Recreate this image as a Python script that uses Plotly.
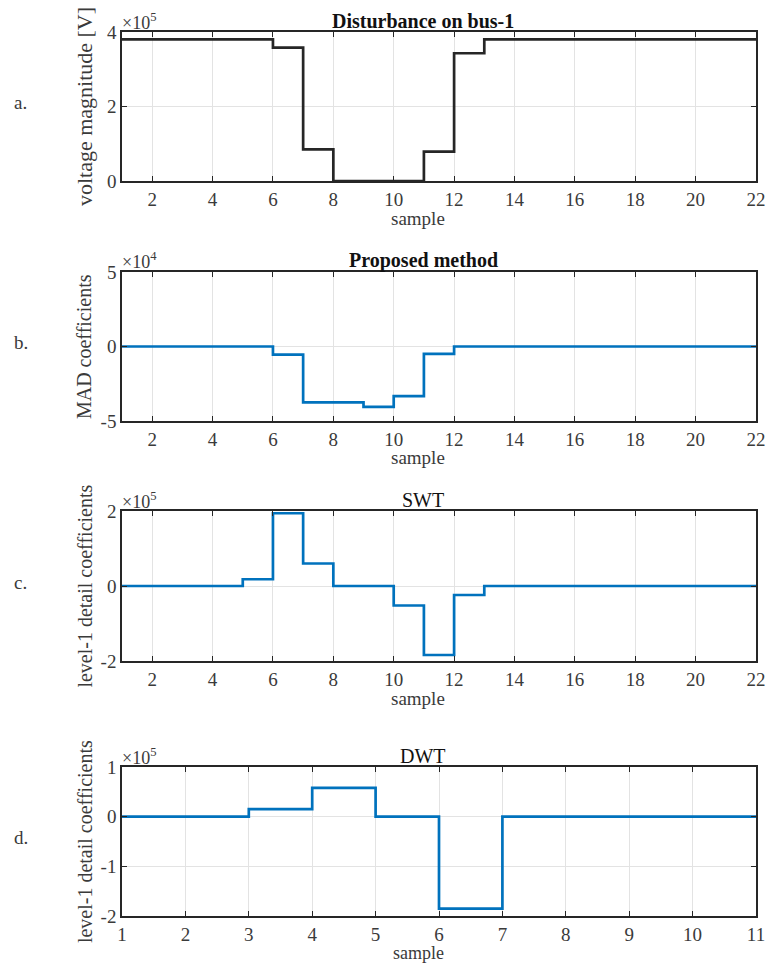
import plotly.graph_objects as go

# ---------------- data ----------------
samples_22 = list(range(1, 23))
samples_11 = list(range(1, 12))

# a. voltage magnitude on bus-1 [V]
voltage = [380000, 380000, 380000, 380000, 380000, 358000, 85000, 0, 0, 0,
           79000, 343000, 380000, 380000, 380000, 380000, 380000, 380000,
           380000, 380000, 380000, 380000]
# b. proposed method (MAD coefficients)
mad = [0, 0, 0, 0, 0, -5500, -37500, -37500, -40500, -33300, -4900, 0,
       0, 0, 0, 0, 0, 0, 0, 0, 0, 0]
# c. SWT level-1 detail coefficients
swt = [0, 0, 0, 0, 18000, 194000, 60000, 0, 0, -52000, -184000, -24000,
       0, 0, 0, 0, 0, 0, 0, 0, 0, 0]
# d. DWT level-1 detail coefficients
dwt = [0, 0, 15000, 58000, 0, -185000, 0, 0, 0, 0, 0]

titles = ["Disturbance on bus-1", "Proposed method", "SWT", "DWT"]
ylabels = ["voltage magnitude [V]", "MAD coefficients",
           "level-1 detail coefficients", "level-1 detail coefficients"]
panel_letters = ["a.", "b.", "c.", "d."]
exponents = ["5", "4", "5", "5"]
ytick_vals = [[0, 2e5, 4e5], [-5e4, 0, 5e4], [-2e5, 0, 2e5], [-2e5, -1e5, 0, 1e5]]
ytick_text = [["0", "2", "4"], ["-5", "0", "5"], ["-2", "0", "2"], ["-2", "-1", "0", "1"]]
y_ranges = [[0, 4e5], [-5e4, 5e4], [-2e5, 2e5], [-2e5, 1e5]]
x_ticks_22 = list(range(2, 23, 2))
x_ticks_11 = list(range(1, 12))

# ---------------- layout geometry (screen px; page body has an 8px margin) ----------------
OFF = 8
W, H = 775 - OFF, 965 - OFF
PL, PR = 122, 766            # plot left/right in screen px
PT, PB = 32, 916             # plot top/bottom in screen px
ML, MR = PL - OFF, W - (PR - OFF)
MT, MB = PT - OFF, H - (PB - OFF)
PW, PH = PR - PL, PB - PT
panels_px = [(32, 181), (272, 421), (511, 661), (767, 916)]  # top, bottom in screen px
sample_gap = [37, 37, 37, 37]
sample_size = [19, 19, 19, 18]
ylabel_size = [22, 20, 20, 20]

def ypaper(py):
    return (PB - py) / PH

def xpaper(px):
    return (px - PL) / PW

FONT = "Liberation Serif"
AXC = "#262626"
TXC = "#3a3a3a"
BLUE = "#0072BD"

fig = go.Figure()
series = [(samples_22, voltage, AXC), (samples_22, mad, BLUE),
          (samples_22, swt, BLUE), (samples_11, dwt, BLUE)]

layout = dict(
    width=W, height=H, margin=dict(l=ML, r=MR, t=MT, b=MB),
    paper_bgcolor="white", plot_bgcolor="white", showlegend=False,
    font=dict(family=FONT, size=19, color=AXC),
)
annotations = []
for i, (xs, ys, col) in enumerate(series):
    n = "" if i == 0 else str(i + 1)
    fig.add_trace(go.Scatter(x=xs, y=ys, mode="lines", line=dict(color=col, width=2.7, shape="hv"),
                             xaxis="x" + n, yaxis="y" + n, hoverinfo="skip"))
    top, bot = panels_px[i]
    xr = [1, 22] if i < 3 else [1, 11]
    xt = x_ticks_22 if i < 3 else x_ticks_11
    common = dict(
        showgrid=True, gridcolor="#e3e3e3", gridwidth=1, zeroline=False,
        showline=True, linecolor=AXC, linewidth=1.5, mirror="allticks",
        ticks="inside", ticklen=5, tickcolor=AXC, tickwidth=1,
        tickfont=dict(family=FONT, size=19, color=TXC),
    )
    layout["xaxis" + n] = dict(domain=[0, 1], anchor="y" + n, range=xr, tickvals=xt, **common)
    layout["yaxis" + n] = dict(
        domain=[ypaper(bot), ypaper(top)], anchor="x" + n, range=y_ranges[i],
        tickvals=ytick_vals[i], ticktext=ytick_text[i], **common)
    # title
    annotations.append(dict(
        text=("<b>%s</b>" % titles[i]) if i < 2 else titles[i],
        x=xpaper(428), y=ypaper(top - 11), xref="paper", yref="paper",
        xanchor="center", yanchor="middle", showarrow=False,
        font=dict(family=FONT, size=20, color="#111111")))
    # exponent
    annotations.append(dict(
        text="×10<sup>%s</sup>" % exponents[i],
        x=xpaper(120), y=ypaper(top - 11), xref="paper", yref="paper",
        xanchor="left", yanchor="middle", showarrow=False,
        font=dict(family=FONT, size=18, color=TXC)))
    # x label
    annotations.append(dict(
        text="sample", x=xpaper(423), y=ypaper(bot + sample_gap[i]), xref="paper", yref="paper",
        xanchor="center", yanchor="middle", showarrow=False,
        font=dict(family=FONT, size=sample_size[i], color=TXC)))
    # y label
    annotations.append(dict(
        text=ylabels[i], x=xpaper(84), y=ypaper((top + bot) / 2), xref="paper", yref="paper",
        xanchor="center", yanchor="middle", textangle=-90, showarrow=False,
        font=dict(family=FONT, size=ylabel_size[i], color=TXC)))
    # panel letter
    annotations.append(dict(
        text=panel_letters[i], x=xpaper(19), y=ypaper((top + bot) / 2 - 4), xref="paper", yref="paper",
        xanchor="center", yanchor="middle", showarrow=False,
        font=dict(family=FONT, size=19, color=TXC)))

layout["annotations"] = annotations
fig.update_layout(**layout)
fig.write_html("out.html")
